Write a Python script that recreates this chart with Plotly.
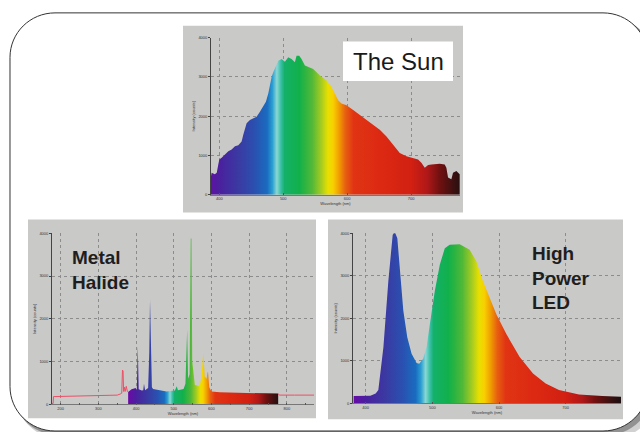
import plotly.graph_objects as go

W, H = 640, 432

# ---------------- data ----------------
sun_nm = [387, 388, 393, 396, 398.4, 400, 403.6, 408.9, 414.1, 419.3, 424.5, 429.7, 434.9, 437.5,
          442.7, 447.9, 453.1, 458.3, 463.5, 468.8, 472.9, 476.6, 479.2, 481.8, 484.4, 488.5,
          492.2, 497.4, 502.6, 507.8, 513, 518.2, 520.8, 525, 528.6, 533.9, 539.1, 546.9, 557.3,
          567.7, 575.5, 580.7, 585.9, 591.1, 599, 609.4, 619.8, 630.2, 640.6, 651, 661.5, 671.9,
          682.3, 692.7, 703.1, 710.9, 716.1, 721.4, 726.6, 731.8, 744.8, 752.6, 755.2, 757.8,
          763, 765.6, 770.8, 776]
sun_counts = [478, 562, 520, 562, 771, 897, 939, 1023, 1107, 1149, 1233, 1258, 1358, 1526,
              1820, 1904, 1945, 1987, 2113, 2239, 2365, 2574, 2826, 2994, 3119, 3287,
              3413, 3455, 3388, 3497, 3455, 3371, 3539, 3539, 3455, 3287, 3245, 3203, 3036,
              2910, 2742, 2574, 2407, 2323, 2281, 2155, 2029, 1904, 1778, 1652, 1484, 1275,
              1065, 981, 939, 897, 813, 688, 755, 771, 788, 771, 688, 436,
              394, 562, 604, 520]

halide_nm = [177, 180, 181, 250, 300, 350, 358, 362, 364, 365.5, 367, 369, 371, 374, 377, 379,
             388, 399, 402, 404.5, 407, 415, 419, 421, 424, 432, 435, 437, 439, 442, 445, 463,
             481, 503, 506, 508, 511, 526, 531, 533, 535.5, 538, 542, 545, 547, 549, 552, 556,
             569, 574, 577.5, 579, 582, 587, 589.5, 591, 594, 600, 622, 710, 777,
             780, 820, 875]
halide_counts = [20, 20, 180, 190, 195, 215, 240, 260, 800, 780, 300, 400, 300, 420, 300, 290,
                 350, 380, 330, 1370, 350, 320, 330, 480, 330, 380, 1200, 2450, 1100, 400, 360, 330,
                 300, 320, 420, 420, 330, 360, 480, 1000, 1750, 600, 700, 3880, 3880, 1000, 700, 450,
                 420, 700, 1140, 1140, 650, 600, 750, 750, 400, 300, 280, 260, 250,
                 215, 215, 215]

led_nm = [382, 407, 415, 419, 426.6, 434, 440.5, 443.5, 447.5, 451.5, 456.5, 462.4, 468.9,
          476.4, 480.3, 486.3, 491.3, 496.3, 503.7, 511.2, 518.7, 526, 541, 556, 566, 576,
          586, 596, 611, 631, 651, 670, 690, 720, 755, 783]
led_counts = [171, 180, 230, 311, 1320, 2874, 3961, 4039, 3883, 3107, 2175, 1553, 1165,
              948, 932, 1049, 1320, 1864, 2641, 3262, 3650, 3728, 3744, 3612, 3340, 2874,
              2485, 2097, 1631, 1087, 699, 466, 311, 210, 171, 155]

spectrum_nm = [380, 400, 430, 455, 475, 483, 490, 496, 502, 525, 545, 560, 570, 578, 587,
               597, 610, 650, 700, 725, 745, 765, 780]
spectrum_colors = ['#6a0aa8', '#4a209e', '#3a3aa2', '#2a50b0', '#1a6cc0', '#2a9ed2', '#8ad8d2',
                   '#3cc0a8', '#14b06a', '#12b04a', '#50b838', '#a8cc20', '#e8e000', '#f8d000',
                   '#f0a000', '#e86010', '#e03414', '#dc2a12', '#d22012', '#b01818', '#701010',
                   '#401010', '#201010']

count_ticks = [0, 1000, 2000, 3000, 4000]
count_labels = ['0', '1000', '2000', '3000', '4000']
sun_ticks = [400, 500, 600, 700]
led_ticks = [400, 500, 600, 700]
halide_ticks = [200, 300, 400, 500, 600, 700, 800]

# ---------------- helpers ----------------
def px(x):
    return x / W

def py(y):
    return (H - y) / H

def dom_x(a, b):
    return [px(a), px(b)]

def dom_y(bottom, top):
    return [py(bottom), py(top)]

colorscale = [[(n - 380) / 400, c] for n, c in zip(spectrum_nm, spectrum_colors)]
grad = dict(type='horizontal', colorscale=colorscale, start=380, stop=780)

FONT = 'Liberation Sans, Arial, sans-serif'
tickfont = dict(size=4, color='#333', family=FONT)
titlefont = dict(size=4, color='#333', family=FONT)


def xaxis(dom, rng, ticks, anchor, minor=None):
    d = dict(domain=dom, range=rng, anchor=anchor, tickmode='array', tickvals=ticks,
             ticktext=[str(t) for t in ticks], tickfont=tickfont, ticks='inside', ticklen=2,
             tickcolor='#555', tickwidth=0.6, showgrid=True, gridcolor='#8c8c8c', griddash='dot',
             gridwidth=0.8, zeroline=False, showline=True, linecolor='#777', linewidth=0.6,
             title=dict(text='Wavelength (nm)', font=titlefont, standoff=1), fixedrange=True)
    if minor:
        d['minor'] = minor
    return d


def yaxis(dom, anchor):
    return dict(domain=dom, range=[0, 4000], anchor=anchor, tickmode='array', tickvals=count_ticks,
                ticktext=count_labels, tickfont=tickfont, ticks='outside', ticklen=2,
                tickcolor='#444', tickwidth=0.6, showgrid=True, gridcolor='#8c8c8c', griddash='dot',
                gridwidth=0.8, zeroline=False, showline=True, linecolor='#444', linewidth=0.8,
                title=dict(text='Intensity (counts)', font=titlefont, standoff=2), fixedrange=True)


def rrect(x0, y0, x1, y1, r):
    k = 0.5523 * r
    P = lambda x, y: f'{px(x):.5f},{py(y):.5f}'
    return (f'M {P(x0 + r, y0)} L {P(x1 - r, y0)} '
            f'C {P(x1 - r + k, y0)} {P(x1, y0 + r - k)} {P(x1, y0 + r)} '
            f'L {P(x1, y1 - r)} C {P(x1, y1 - r + k)} {P(x1 - r + k, y1)} {P(x1 - r, y1)} '
            f'L {P(x0 + r, y1)} C {P(x0 + r - k, y1)} {P(x0, y1 - r + k)} {P(x0, y1 - r)} '
            f'L {P(x0, y0 + r)} C {P(x0, y0 + r - k)} {P(x0 + r - k, y0)} {P(x0 + r, y0)} Z')


# ---------------- figure ----------------
fig = go.Figure()

# Sun
fig.add_trace(go.Scatter(x=sun_nm, y=sun_counts, mode='lines', line=dict(width=0),
                         fill='tozeroy', fillgradient=grad, xaxis='x', yaxis='y',
                         hoverinfo='skip'))

# Metal halide: coloured visible part + red line outside
vis = [(n, c) for n, c in zip(halide_nm, halide_counts) if 379 <= n <= 777]
left = [(n, c) for n, c in zip(halide_nm, halide_counts) if n <= 379]
right = [(n, c) for n, c in zip(halide_nm, halide_counts) if n >= 777]
fig.add_trace(go.Scatter(x=[v[0] for v in vis], y=[v[1] for v in vis], mode='lines',
                         line=dict(width=0), fill='tozeroy', fillgradient=grad,
                         xaxis='x2', yaxis='y2', hoverinfo='skip'))
for part in (left, right):
    fig.add_trace(go.Scatter(x=[v[0] for v in part], y=[v[1] for v in part], mode='lines',
                             line=dict(width=1, color='#ee4f66'), xaxis='x2', yaxis='y2',
                             hoverinfo='skip'))

# LED
fig.add_trace(go.Scatter(x=led_nm, y=led_counts, mode='lines', line=dict(width=0),
                         fill='tozeroy', fillgradient=grad, xaxis='x3', yaxis='y3',
                         hoverinfo='skip'))

shapes = [
    dict(type='path', xref='paper', yref='paper', path=rrect(16, 16, 656, 441, 45),
         fillcolor='rgba(0,0,0,0.18)', line=dict(width=0), layer='below'),
    dict(type='path', xref='paper', yref='paper', path=rrect(13, 13, 652, 437, 45),
         fillcolor='rgba(0,0,0,0.3)', line=dict(width=0), layer='below'),
    dict(type='path', xref='paper', yref='paper', path=rrect(10, 10, 648, 433, 45),
         fillcolor='white', line=dict(width=1, color='#333'), layer='below'),
    dict(type='rect', xref='paper', yref='paper', x0=px(183), x1=px(463), y0=py(212), y1=py(23),
         fillcolor='#c9c9c8', line=dict(width=0), layer='below'),
    dict(type='rect', xref='paper', yref='paper', x0=px(28), x1=px(316), y0=py(420), y1=py(219),
         fillcolor='#c9c9c8', line=dict(width=0), layer='below'),
    dict(type='rect', xref='paper', yref='paper', x0=px(328), x1=px(623), y0=py(421), y1=py(219),
         fillcolor='#c9c9c8', line=dict(width=0), layer='below'),
    dict(type='rect', xref='paper', yref='paper', x0=px(343), x1=px(453), y0=py(79), y1=py(39),
         fillcolor='white', line=dict(width=0), layer='above'),
]

annotations = [
    dict(text='The Sun', x=px(398), y=py(59), xref='paper', yref='paper', showarrow=False,
         xanchor='center', yanchor='middle', font=dict(size=24, color='#1a1a1a', family=FONT)),
    dict(text='<b>Metal<br>Halide</b>', x=px(70), y=py(270), xref='paper', yref='paper',
         showarrow=False, xanchor='left', yanchor='middle', align='left',
         font=dict(size=19, color='#1e1e1e', family=FONT)),
    dict(text='<b>High<br>Power<br>LED</b>', x=px(530), y=py(278), xref='paper', yref='paper',
         showarrow=False, xanchor='left', yanchor='middle', align='left',
         font=dict(size=19, color='#1e1e1e', family=FONT)),
]

minor_h = dict(ticks='inside', dtick=50, ticklen=2, tickcolor='#555', tickwidth=0.6, showgrid=False)

fig.update_layout(
    width=W, height=H, margin=dict(l=0, r=0, t=0, b=0),
    paper_bgcolor='white', plot_bgcolor='rgba(0,0,0,0)', showlegend=False,
    xaxis=xaxis(dom_x(211, 460), [387, 776.5], sun_ticks, 'y'),
    yaxis=yaxis(dom_y(194, 35), 'x'),
    xaxis2=xaxis(dom_x(52, 314), [177, 872], halide_ticks, 'y2', minor=minor_h),
    yaxis2=yaxis(dom_y(406, 233), 'x2'),
    xaxis3=xaxis(dom_x(353, 621), [381, 783], led_ticks, 'y3'),
    yaxis3=yaxis(dom_y(405, 233), 'x3'),
    shapes=shapes, annotations=annotations,
)

fig.write_html('out.html')
